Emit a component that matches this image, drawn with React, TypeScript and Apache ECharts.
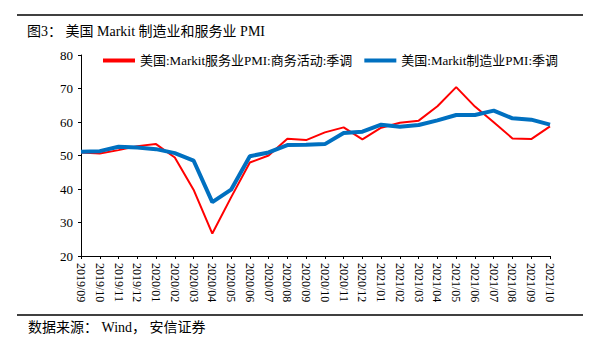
import React, { useEffect, useRef } from "react";
import * as echarts from "echarts";

const categories = [
  "2019/09", "2019/10", "2019/11", "2019/12", "2020/01", "2020/02", "2020/03", "2020/04",
  "2020/05", "2020/06", "2020/07", "2020/08", "2020/09", "2020/10", "2020/11", "2020/12",
  "2021/01", "2021/02", "2021/03", "2021/04", "2021/05", "2021/06", "2021/07", "2021/08",
  "2021/09", "2021/10",
];
const servicesPMI = [
  50.9, 50.6, 51.6, 52.8, 53.4, 49.4, 39.8, 26.7, 37.5, 47.9, 50.0, 55.0, 54.6, 56.9, 58.4, 54.8,
  58.3, 59.8, 60.4, 64.7, 70.4, 64.6, 59.9, 55.1, 54.9, 58.7,
];
const manufacturingPMI = [
  51.1, 51.3, 52.6, 52.4, 51.9, 50.7, 48.5, 36.1, 39.8, 49.8, 50.9, 53.1, 53.2, 53.4, 56.7, 57.1,
  59.2, 58.6, 59.1, 60.5, 62.1, 62.1, 63.4, 61.1, 60.7, 59.2,
];
const seriesNames = ["美国:Markit服务业PMI:商务活动:季调", "美国:Markit制造业PMI:季调"];
const titleText = "图3： 美国 Markit 制造业和服务业 PMI";
const sourceText = "数据来源： Wind， 安信证券";

const serif = "'Liberation Serif', 'Times New Roman', 'Noto Sans CJK SC', serif";

export default function App() {
  const ref = useRef<HTMLDivElement>(null);
  useEffect(() => {
    if (!ref.current) return;
    const chart = echarts.init(ref.current, undefined, { renderer: "svg" });
    chart.setOption({
      animation: false,
      backgroundColor: "#ffffff",
      grid: { left: 81, right: 46, top: 55, bottom: 96, containLabel: false },
      legend: {
        top: 49,
        left: 98,
        itemWidth: 32,
        itemHeight: 4,
        itemGap: 12,
        icon: "rect",
        textStyle: { fontFamily: serif, fontSize: 13, color: "#000" },
        data: seriesNames,
      },
      graphic: [
        { type: "line", shape: { x1: 17, y1: 15, x2: 583, y2: 15 }, style: { stroke: "#000", lineWidth: 1.5 } },
        { type: "line", shape: { x1: 17, y1: 315, x2: 583, y2: 315 }, style: { stroke: "#000", lineWidth: 1.5 } },
        {
          type: "text", left: 27, top: 24,
          style: { text: titleText, font: `14px ${serif}`, fill: "#000" },
        },
        {
          type: "text", left: 28, top: 320,
          style: { text: sourceText, font: `14px ${serif}`, fill: "#000" },
        },
      ],
      xAxis: {
        type: "category",
        data: categories,
        boundaryGap: false,
        axisLine: { lineStyle: { color: "#000", width: 1 } },
        axisTick: { alignWithLabel: true, length: 3, lineStyle: { color: "#000" } },
        axisLabel: {
          rotate: -90,
          interval: 0,
          fontFamily: serif,
          fontSize: 12,
          color: "#000",
          margin: 7,
        },
      },
      yAxis: {
        type: "value",
        min: 20,
        max: 80,
        interval: 10,
        splitLine: { show: false },
        axisLine: { show: true, lineStyle: { color: "#000", width: 1 } },
        axisTick: { show: true, length: 3, lineStyle: { color: "#000" } },
        axisLabel: { fontFamily: serif, fontSize: 13, color: "#000", margin: 8 },
      },
      series: [
        {
          name: seriesNames[0],
          type: "line",
          data: servicesPMI,
          symbol: "none",
          lineStyle: { color: "#ff0000", width: 2 },
          itemStyle: { color: "#ff0000" },
        },
        {
          name: seriesNames[1],
          type: "line",
          data: manufacturingPMI,
          symbol: "none",
          lineStyle: { color: "#0070c0", width: 4 },
          itemStyle: { color: "#0070c0" },
        },
      ],
    });
    return () => chart.dispose();
  }, []);
  return (
    <div
      ref={ref}
      style={{ position: "fixed", left: 0, top: 0, width: 596, height: 352, background: "#fff" }}
    />
  );
}
